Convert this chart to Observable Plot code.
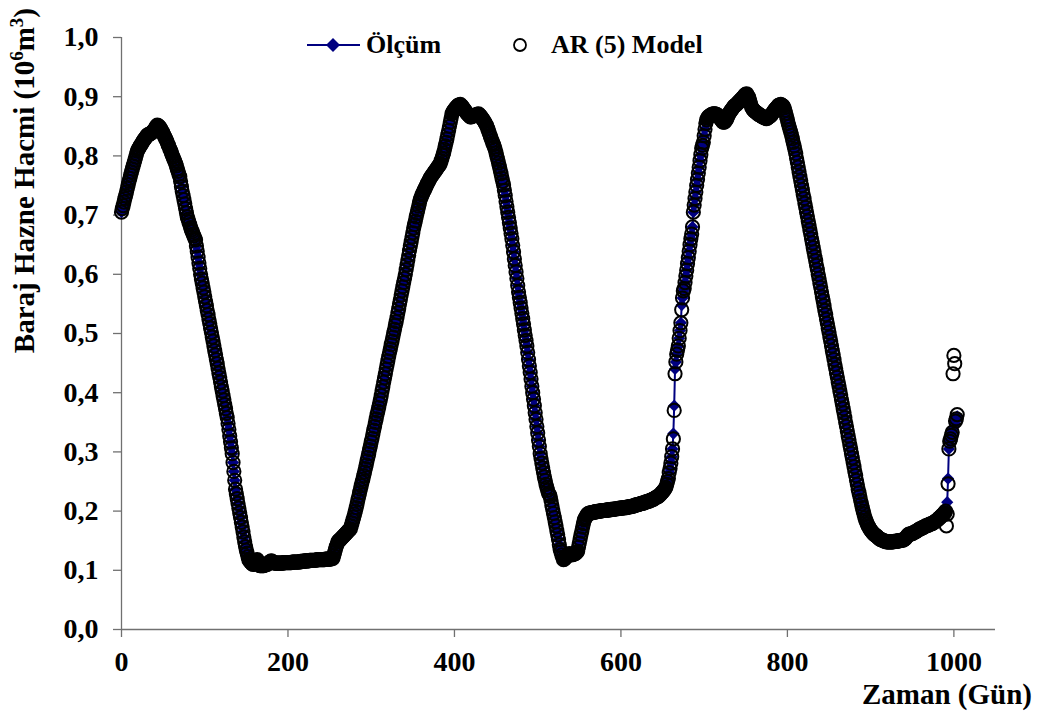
<!DOCTYPE html>
<html><head><meta charset="utf-8">
<script src="https://cdn.jsdelivr.net/npm/d3@7"></script>
<script src="https://cdn.jsdelivr.net/npm/@observablehq/plot@0.6"></script>
<style>
html,body{margin:0;padding:0;background:#fff;}
#chart{position:relative;width:1046px;height:718px;}
</style></head><body><div id="chart"></div>
<script>
// Day index of the first value
const startDay = 0;
// Ölçüm (measured) reservoir volume, one value per day (10^6 m3)
const measured = [
.705,.711,.716,.722,.728,.733,.739,.745,.751,.757,
.762,.768,.773,.778,.783,.788,.793,.798,.803,.808,
.811,.813,.816,.818,.820,.823,.825,.827,.829,.831,
.833,.835,.836,.836,.837,.838,.839,.840,.842,.843,
.845,.848,.850,.852,.851,.850,.848,.846,.843,.841,
.838,.835,.832,.829,.826,.823,.819,.816,.812,.809,
.805,.801,.798,.794,.791,.787,.783,.778,.774,.769,
.765,.757,.748,.740,.733,.726,.719,.711,.704,.697,
.693,.688,.684,.679,.675,.672,.668,.665,.661,.658,
.648,.639,.629,.619,.610,.600,.592,.585,.577,.570,
.562,.554,.547,.539,.532,.524,.517,.509,.502,.494,
.487,.479,.471,.464,.456,.449,.441,.433,.426,.418,
.410,.403,.395,.388,.380,.373,.365,.358,.348,.338,
.327,.317,.307,.297,.282,.267,.252,.237,.229,.221,
.213,.205,.197,.189,.181,.173,.165,.156,.148,.140,
.134,.129,.123,.118,.116,.114,.113,.111,.110,.112,
.114,.116,.117,.118,.113,.110,.108,.108,.108,.108,
.108,.108,.109,.109,.110,.110,.111,.113,.114,.115,
.116,.115,.114,.113,.112,.112,.112,.112,.112,.112,
.112,.112,.112,.112,.112,.113,.113,.113,.113,.113,
.113,.113,.113,.113,.113,.114,.114,.114,.114,.114,
.114,.114,.114,.114,.114,.115,.115,.115,.115,.115,
.116,.116,.116,.116,.116,.116,.117,.117,.117,.117,
.117,.117,.117,.117,.117,.118,.118,.118,.118,.118,
.118,.118,.118,.118,.118,.119,.119,.119,.119,.119,
.119,.119,.120,.120,.120,.125,.130,.135,.140,.144,
.148,.150,.151,.152,.154,.155,.157,.158,.160,.161,
.163,.164,.166,.167,.169,.170,.175,.180,.185,.190,
.195,.200,.206,.212,.219,.225,.231,.237,.243,.249,
.254,.260,.266,.272,.278,.285,.291,.297,.304,.310,
.317,.323,.330,.337,.343,.350,.356,.363,.369,.375,
.382,.388,.395,.403,.410,.418,.425,.432,.440,.447,
.454,.461,.468,.474,.481,.487,.494,.501,.507,.514,
.520,.527,.535,.542,.550,.557,.565,.572,.579,.586,
.593,.600,.608,.616,.624,.632,.640,.648,.655,.663,
.670,.678,.684,.690,.697,.703,.709,.715,.721,.727,
.730,.734,.737,.740,.743,.746,.749,.752,.755,.757,
.760,.763,.765,.767,.769,.771,.773,.775,.777,.779,
.781,.783,.785,.787,.792,.796,.801,.805,.811,.817,
.823,.829,.836,.843,.850,.857,.864,.871,.874,.876,
.878,.880,.882,.883,.885,.886,.886,.887,.885,.884,
.882,.880,.878,.876,.874,.872,.871,.869,.868,.866,
.866,.867,.867,.868,.868,.869,.869,.870,.870,.871,
.869,.868,.866,.864,.862,.860,.858,.855,.853,.850,
.846,.842,.838,.834,.830,.826,.822,.819,.815,.811,
.805,.799,.794,.788,.782,.776,.770,.763,.757,.751,
.742,.733,.723,.714,.705,.696,.687,.678,.669,.660,
.649,.638,.626,.615,.604,.593,.581,.570,.561,.552,
.543,.534,.525,.516,.506,.497,.488,.479,.468,.456,
.445,.434,.423,.411,.400,.389,.378,.366,.355,.343,
.332,.320,.309,.297,.289,.281,.273,.265,.258,.252,
.245,.240,.235,.230,.228,.225,.218,.210,.203,.196,
.189,.182,.175,.167,.160,.152,.143,.135,.131,.126,
.122,.118,.119,.121,.122,.124,.125,.127,.128,.127,
.127,.126,.127,.127,.128,.128,.129,.131,.132,.139,
.146,.153,.160,.166,.173,.179,.185,.188,.190,.193,
.195,.196,.196,.197,.197,.197,.198,.198,.198,.199,
.199,.199,.199,.200,.200,.200,.200,.201,.201,.201,
.201,.201,.201,.202,.202,.202,.202,.202,.203,.203,
.203,.203,.203,.204,.204,.204,.204,.204,.205,.205,
.205,.205,.205,.206,.206,.206,.206,.206,.207,.207,
.207,.207,.208,.208,.208,.209,.209,.210,.210,.211,
.211,.211,.212,.212,.213,.213,.213,.214,.214,.215,
.215,.216,.216,.217,.217,.218,.218,.219,.220,.220,
.221,.222,.223,.224,.224,.225,.226,.228,.229,.231,
.232,.234,.236,.238,.240,.245,.250,.255,.265,.272,
.282,.292,.305,.331,.378,.440,.452,.465,.472,.479,
.492,.505,.518,.548,.560,.572,.576,.586,.597,.607,
.618,.628,.639,.650,.660,.668,.680,.705,.717,.728,
.739,.750,.760,.771,.781,.792,.802,.813,.818,.823,
.834,.845,.855,.861,.864,.866,.867,.868,.869,.870,
.870,.871,.871,.871,.870,.870,.869,.868,.866,.864,
.862,.860,.858,.857,.857,.858,.860,.862,.866,.869,
.872,.874,.876,.878,.880,.882,.884,.885,.886,.887,
.889,.890,.892,.893,.895,.896,.898,.899,.901,.903,
.904,.905,.902,.900,.897,.892,.887,.882,.880,.878,
.876,.875,.874,.873,.872,.870,.870,.869,.868,.867,
.866,.866,.865,.864,.864,.863,.864,.865,.866,.867,
.868,.870,.872,.874,.876,.878,.880,.881,.883,.885,
.886,.886,.887,.886,.885,.884,.881,.877,.872,.866,
.861,.855,.850,.845,.840,.835,.829,.823,.817,.811,
.804,.796,.789,.781,.773,.765,.758,.750,.743,.735,
.728,.720,.713,.705,.698,.690,.683,.675,.668,.660,
.653,.645,.638,.630,.623,.615,.608,.600,.593,.585,
.578,.570,.562,.555,.547,.539,.532,.524,.517,.509,
.502,.494,.487,.479,.471,.464,.456,.448,.441,.433,
.426,.418,.411,.403,.396,.388,.381,.373,.366,.358,
.350,.343,.335,.327,.320,.312,.305,.297,.290,.282,
.275,.267,.260,.252,.245,.237,.231,.225,.218,.212,
.206,.200,.195,.189,.185,.182,.178,.175,.173,.170,
.168,.166,.164,.163,.161,.160,.159,.158,.157,.155,
.154,.153,.152,.152,.151,.150,.150,.149,.149,.148,
.148,.148,.148,.148,.148,.148,.148,.148,.149,.149,
.149,.149,.149,.150,.150,.150,.150,.151,.151,.151,
.152,.153,.154,.156,.158,.160,.161,.161,.161,.162,
.162,.163,.164,.165,.165,.166,.167,.168,.169,.170,
.170,.171,.172,.172,.173,.174,.175,.175,.176,.176,
.177,.178,.178,.179,.179,.180,.181,.182,.183,.184,
.185,.186,.188,.189,.190,.192,.193,.194,.196,.197,
.200,.205,.215,.255,.305,.318,.322,.328,.333,.338,
.342,.347,.352,.356,.360
];
// AR (5) Model: equals the measured value except on these days [day, value]
const modelDifferences = [
  [660, 0.281], [663, 0.322], [664, 0.370], [665, 0.432], [673, 0.540],
  [991, 0.175], [992, 0.195], [993, 0.246],
  [999, 0.432], [1000, 0.463], [1001, 0.449], [1004, 0.363]
];
const seriesNames = ["Ölçüm", "AR (5) Model"];
const xTicks = [0, 200, 400, 600, 800, 1000];
const yTicks = [0, 0.1, 0.2, 0.3, 0.4, 0.5, 0.6, 0.7, 0.8, 0.9, 1.0];
const xDomain = [0, 1050];
const yDomain = [0, 1];
const xTitle = "Zaman (Gün)";
const yTitleParts = ["Baraj Hazne Hacmi (10", "6", "m", "3", ")"];

const FONT = '"Liberation Serif","Times New Roman",serif';
const NAVY = "#000080";
const AXIS = "#707070";

const measuredRows = measured.map((v, i) => ({day: startDay + i, value: v}));
const diffMap = new Map(modelDifferences);
const modelRows = measuredRows.map(d => ({day: d.day, value: diffMap.has(d.day) ? diffMap.get(d.day) : d.value}));

const plot = Plot.plot({
  width: 1046, height: 718,
  marginLeft: 121, marginRight: 51, marginTop: 37, marginBottom: 89,
  style: {fontFamily: FONT, fontSize: "28px", fontWeight: "bold", color: "#000", background: "#fff", overflow: "visible"},
  x: {domain: xDomain},
  y: {domain: yDomain},
  marks: [
    Plot.axisX({ticks: xTicks, tickSize: 8, tickPadding: 14, stroke: AXIS, strokeWidth: 1.3, fill: "#000", label: null, tickFormat: d => String(d)}),
    Plot.axisY({ticks: yTicks, tickSize: 8, tickPadding: 15, stroke: AXIS, strokeWidth: 1.3, fill: "#000", label: null, tickFormat: d => d.toFixed(1).replace(".", ",")}),
    Plot.ruleY([0], {stroke: AXIS, strokeWidth: 1.3}),
    Plot.ruleX([0], {stroke: AXIS, strokeWidth: 1.3}),
    Plot.line(measuredRows, {x: "day", y: "value", stroke: NAVY, strokeWidth: 2}),
    Plot.dot(measuredRows, {x: "day", y: "value", symbol: "diamond2", r: 5.5, fill: NAVY, stroke: "none"}),
    Plot.dot(modelRows, {x: "day", y: "value", r: 6.6, stroke: "#000", strokeWidth: 2, fill: "none"})
  ]
});

const svg = d3.select(plot);
const extra = svg.append("g").attr("font-family", FONT).attr("font-weight", "bold").attr("fill", "#000");

// Axis titles
extra.append("text").attr("x", 1032).attr("y", 704).attr("text-anchor", "end")
  .attr("font-size", 29).text(xTitle);
const yt = extra.append("text").attr("transform", "translate(34,8) rotate(-90)")
  .attr("text-anchor", "end").attr("font-size", 29);
yt.append("tspan").text(yTitleParts[0]);
yt.append("tspan").attr("font-size", 19).attr("dy", -11).text(yTitleParts[1]);
yt.append("tspan").attr("font-size", 29).attr("dy", 11).text(yTitleParts[2]);
yt.append("tspan").attr("font-size", 19).attr("dy", -11).text(yTitleParts[3]);
yt.append("tspan").attr("font-size", 29).attr("dy", 11).text(yTitleParts[4]);

// Legend
const lg = extra.append("g").attr("text-anchor", "start");
lg.append("line").attr("x1", 307).attr("x2", 360).attr("y1", 45).attr("y2", 45).attr("stroke", NAVY).attr("stroke-width", 2);
lg.append("path").attr("d", "M333,38L340,45L333,52L326,45Z").attr("fill", NAVY);
lg.append("text").attr("x", 366).attr("y", 53).attr("font-size", 26).text(seriesNames[0]);
lg.append("circle").attr("cx", 520).attr("cy", 45).attr("r", 6).attr("fill", "none").attr("stroke", "#000").attr("stroke-width", 1.8);
lg.append("text").attr("x", 551).attr("y", 53).attr("font-size", 26).text(seriesNames[1]);

document.getElementById("chart").appendChild(plot);
</script>
</body></html>
